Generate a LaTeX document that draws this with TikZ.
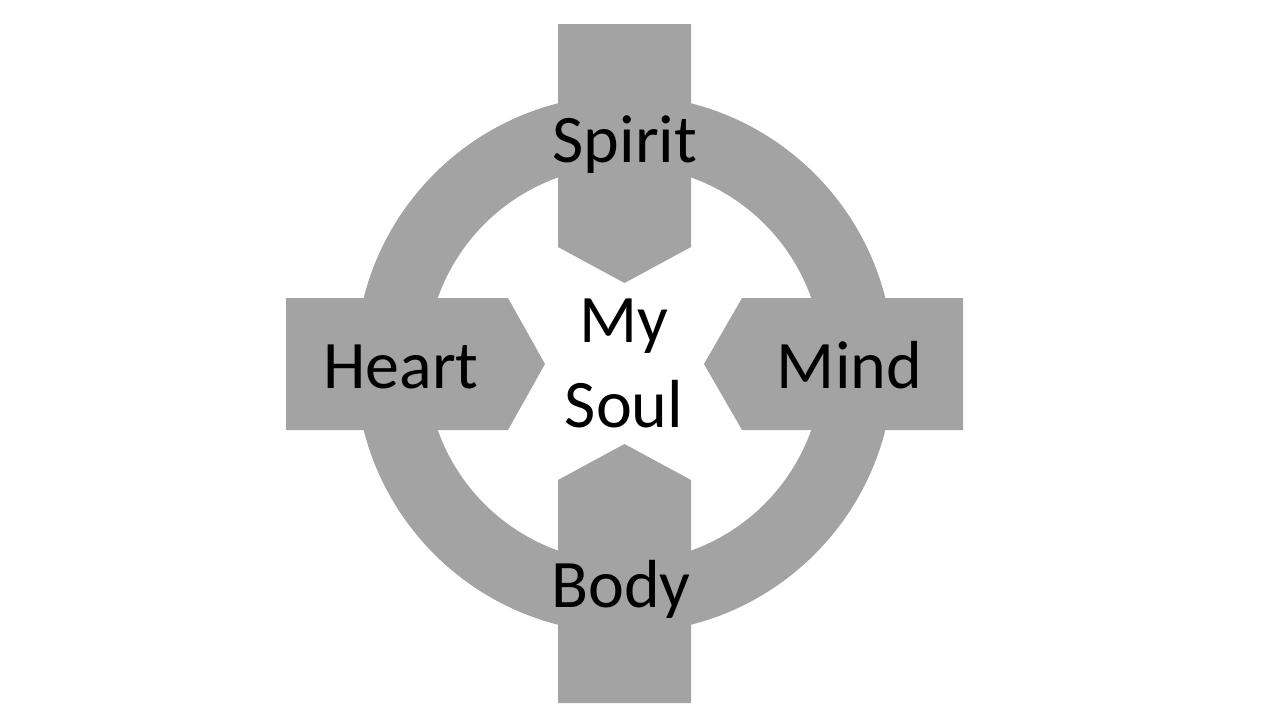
\documentclass[tikz,border=0pt]{standalone}
\usepackage{fontspec}
\setmainfont{Carlito}
\definecolor{shapegray}{RGB}{163,163,163}
\begin{document}
\begin{tikzpicture}[x=1pt,y=-1pt,
  shapefill/.style={fill=shapegray,draw=none},
  lbl/.style={font=\fontsize{68}{85}\selectfont,text=black,inner sep=0pt,anchor=base,align=center}]
\useasboundingbox (0,0) rectangle (1280,720);
% ring
\fill[shapegray,even odd rule] (624.5,364) circle[radius=269] (624.5,364) circle[radius=198];
% top pentagon
\fill[shapefill] (558,24) -- (691,24) -- (691,247) -- (624.5,283) -- (558,247) -- cycle;
% bottom pentagon
\fill[shapefill] (558,703) -- (691,703) -- (691,480) -- (624.5,444) -- (558,480) -- cycle;
% left pentagon
\fill[shapefill] (286,298) -- (508,298) -- (545,364) -- (508,430) -- (286,430) -- cycle;
% right pentagon
\fill[shapefill] (963,298) -- (742,298) -- (704,364) -- (742,430) -- (963,430) -- cycle;
% labels
\node[lbl] (spirit) at (625,162) {Spirit};
\node[lbl] (heart) at (401,388) {Heart};
\node[lbl] (mind) at (849.5,388) {Mind};
\node[lbl] (soul) at (624,427) {My\\Soul};
\node[lbl] (body) at (621,607) {Body};
\end{tikzpicture}
\end{document}
